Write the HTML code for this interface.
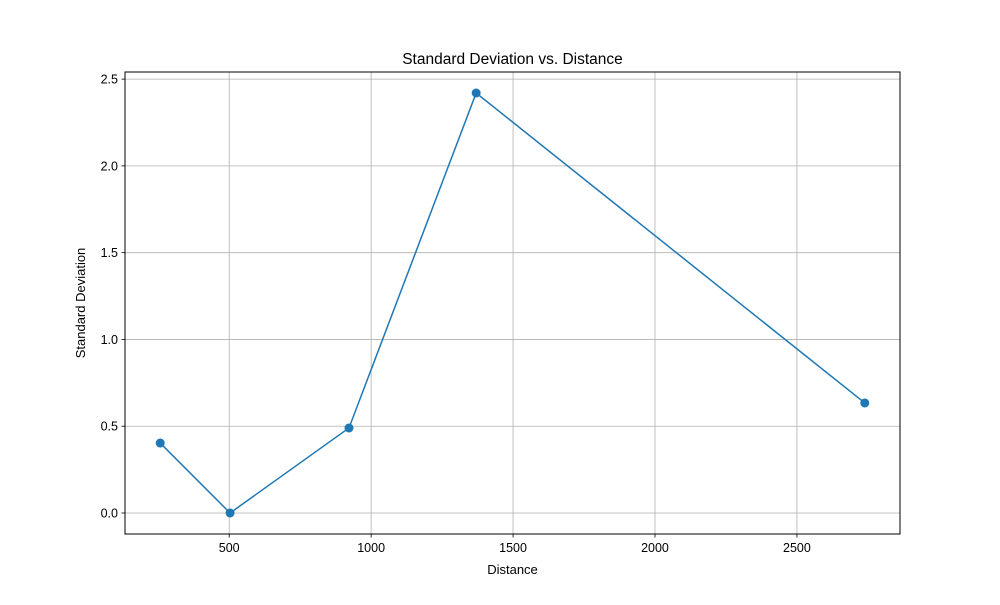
<!DOCTYPE html>
<html><head><meta charset="utf-8"><style>
body{margin:0;background:#fff;font-family:"Liberation Sans","DejaVu Sans",sans-serif;}
</style></head><body>
<svg id="chart" width="1000" height="600" xmlns="http://www.w3.org/2000/svg">
<rect width="1000" height="600" fill="#fff"/>
<g id="grid"></g>
<g id="series"></g>
<rect x="125" y="72" width="775" height="462" fill="none" stroke="#000" stroke-width="1"/>
<g id="ticks" font-size="12.5" fill="#000"></g>
<text x="512.5" y="64" text-anchor="middle" font-size="15.5">Standard Deviation vs. Distance</text>
<text x="512.5" y="574" text-anchor="middle" font-size="13">Distance</text>
<text transform="translate(85,303) rotate(-90)" text-anchor="middle" font-size="13">Standard Deviation</text>
</svg>
<script>
const distances=[257,503,922,1370,2739];
const stdDevs=[0.403,0.0,0.49,2.42,0.634];
const xTicks=[500,1000,1500,2000,2500];
const yTicks=[0.0,0.5,1.0,1.5,2.0,2.5];
const yTickLabels=["0.0","0.5","1.0","1.5","2.0","2.5"];
const L=125,R=900,T=72,B=534;
const xmin0=Math.min(...distances),xmax0=Math.max(...distances),xm=(xmax0-xmin0)*0.05;
const ymin0=Math.min(...stdDevs),ymax0=Math.max(...stdDevs),ym=(ymax0-ymin0)*0.05;
const xmin=xmin0-xm,xmax=xmax0+xm,ymin=ymin0-ym,ymax=ymax0+ym;
const X=v=>L+(v-xmin)/(xmax-xmin)*(R-L);
const Y=v=>B-(v-ymin)/(ymax-ymin)*(B-T);
const NS="http://www.w3.org/2000/svg";
function mk(tag,attrs,parent){const e=document.createElementNS(NS,tag);for(const k in attrs)e.setAttribute(k,attrs[k]);parent.appendChild(e);return e;}
const grid=document.getElementById('grid'),ticks=document.getElementById('ticks'),series=document.getElementById('series');
xTicks.forEach(t=>{const x=X(t);
 const g=mk('line',{x1:x,x2:x,y1:T,y2:B,stroke:'#b0b0b0','stroke-width':0.8},grid);
 
 
 mk('line',{x1:x,x2:x,y1:B,y2:B+3.5,stroke:'#000','stroke-width':0.8},ticks);
 const tx=mk('text',{x:x,y:B+18,'text-anchor':'middle'},ticks);tx.textContent=t;
 
 
});
yTicks.forEach((t,i)=>{const y=Y(t);
 const g=mk('line',{x1:L,x2:R,y1:y,y2:y,stroke:'#b0b0b0','stroke-width':0.8},grid);
 
 
 mk('line',{x1:L-3.5,x2:L,y1:y,y2:y,stroke:'#000','stroke-width':0.8},ticks);
 const tx=mk('text',{x:L-7,y:y+4.5,'text-anchor':'end'},ticks);tx.textContent=yTickLabels[i];
 
 
});
const pts=distances.map((d,i)=>X(d)+','+Y(stdDevs[i])).join(' ');
const pl=mk('polyline',{points:pts,fill:'none',stroke:'#1f77b4','stroke-width':1.5},series);


distances.forEach((d,i)=>{const c=mk('circle',{cx:X(d),cy:Y(stdDevs[i]),r:4.5,fill:'#1f77b4'},series);
 
 
});
</script>
</body></html>
